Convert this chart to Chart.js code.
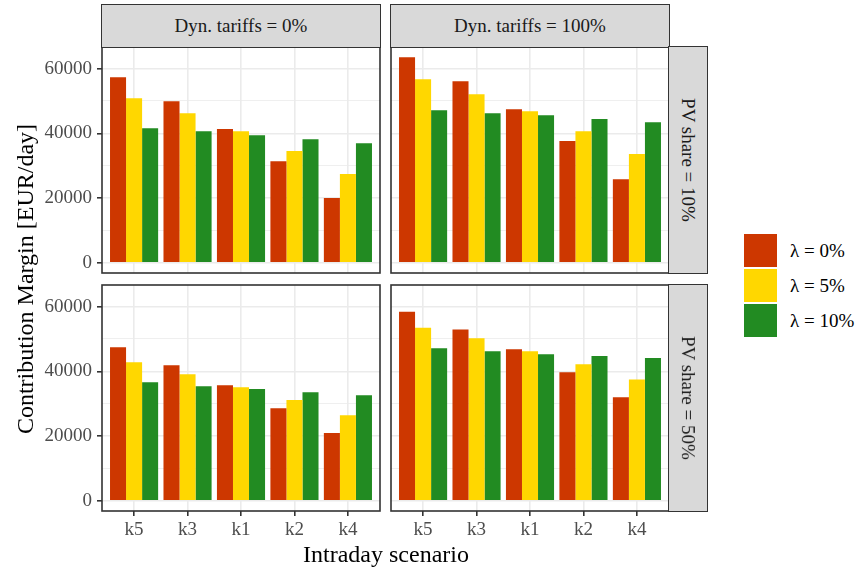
<!DOCTYPE html>
<html>
<head>
<meta charset="utf-8">
<script src="https://cdn.jsdelivr.net/npm/chart.js@4.4.1/dist/chart.umd.min.js"></script>
<style>
  html, body { margin: 0; padding: 0; background: #fff; }
  body { width: 862px; height: 571px; overflow: hidden; position: relative;
         font-family: "Liberation Serif", "Times New Roman", serif; }
  .box { position: absolute; }
  .strip { position: absolute; background: #d9d9d9; border: 1.6px solid #333; box-sizing: border-box;
           display: flex; align-items: center; justify-content: center; color: #1a1a1a; font-size: 19px;
           white-space: nowrap; }
  .strip span.rot { display: inline-block; transform: rotate(90deg); }
  .key { position: absolute; left: 744px; width: 33px; height: 33px; }
  .ltxt { position: absolute; left: 790px; font-size: 19px; line-height: 33px; color: #000; white-space: nowrap; }
  .xtitle { position: absolute; left: 0; width: 772px; top: 540.7px; text-align: center; font-size: 24px; line-height: 27px; color: #000; }
  .ytitle { position: absolute; left: -175px; width: 400px; top: 265px; height: 28px; text-align: center; font-size: 24px;
            line-height: 28px; color: #000; transform: rotate(-90deg); white-space: nowrap; }
</style>
</head>
<body>
<div class="box" id="bTL" style="left:0px;top:40px;width:384px;height:240px;"><canvas id="cTL"></canvas></div>
<div class="box" id="bTR" style="left:387px;top:40px;width:286px;height:240px;"><canvas id="cTR"></canvas></div>
<div class="box" id="bBL" style="left:0px;top:278px;width:384px;height:290px;"><canvas id="cBL"></canvas></div>
<div class="box" id="bBR" style="left:387px;top:278px;width:286px;height:290px;"><canvas id="cBR"></canvas></div>

<div class="strip" style="left:101.2px;top:4.2px;width:279.6px;height:43.6px;">Dyn. tariffs = 0%</div>
<div class="strip" style="left:390.2px;top:4.2px;width:279.6px;height:43.6px;">Dyn. tariffs = 100%</div>
<div class="strip" style="left:668.2px;top:46.2px;width:39.6px;height:227.6px;"><span class="rot">PV share = 10%</span></div>
<div class="strip" style="left:668.2px;top:284.2px;width:39.6px;height:227.6px;"><span class="rot">PV share = 50%</span></div>

<div class="key" style="top:234px;background:#CD3700;"></div>
<div class="key" style="top:269px;background:#FFD700;"></div>
<div class="key" style="top:304px;background:#228B22;"></div>
<div class="ltxt" style="top:234px;">λ = 0%</div>
<div class="ltxt" style="top:269px;">λ = 5%</div>
<div class="ltxt" style="top:304px;">λ = 10%</div>

<div class="xtitle">Intraday scenario</div>
<div class="ytitle">Contribution Margin [EUR/day]</div>

<script>
// ---------- DATA ----------
const categories = ['k5', 'k3', 'k1', 'k2', 'k4'];
const seriesNames = ['λ = 0%', 'λ = 5%', 'λ = 10%'];
const yTicks = [0, 10000, 20000, 30000, 40000, 50000, 60000];

// Dyn. tariffs = 0%, PV share = 10%
const lam0_dyn0_pv10  = [57300, 49900, 41300, 31400, 20000];
const lam5_dyn0_pv10  = [50800, 46200, 40600, 34500, 27400];
const lam10_dyn0_pv10 = [41600, 40600, 39400, 38200, 36900];
// Dyn. tariffs = 100%, PV share = 10%
const lam0_dyn100_pv10  = [63500, 56100, 47400, 37600, 25800];
const lam5_dyn100_pv10  = [56700, 52100, 46800, 40600, 33600];
const lam10_dyn100_pv10 = [47100, 46200, 45600, 44400, 43400];
// Dyn. tariffs = 0%, PV share = 50%
const lam0_dyn0_pv50  = [47400, 41900, 35700, 28600, 20900];
const lam5_dyn0_pv50  = [42800, 39100, 35100, 31100, 26400];
const lam10_dyn0_pv50 = [36600, 35400, 34500, 33500, 32600];
// Dyn. tariffs = 100%, PV share = 50%
const lam0_dyn100_pv50  = [58400, 52900, 46800, 39700, 32000];
const lam5_dyn100_pv50  = [53500, 50200, 46200, 42200, 37500];
const lam10_dyn100_pv50 = [47100, 46200, 45300, 44700, 44100];

// ---------- STYLE ----------
const colors = ['#CD3700', '#FFD700', '#228B22'];
const FONT = "'Liberation Serif', 'Times New Roman', serif";
const Y_MIN = -3175, Y_MAX = 66675;

const borderPlugin = {
  id: 'panelBorder',
  afterDraw(chart) {
    const a = chart.chartArea, ctx = chart.ctx;
    ctx.save();
    ctx.strokeStyle = '#333333';
    ctx.lineWidth = 1.6;
    ctx.strokeRect(a.left, a.top, a.right - a.left, a.bottom - a.top);
    ctx.restore();
  }
};

function zeroPad(scale) {
  scale.paddingTop = 0; scale.paddingBottom = 0; scale.paddingLeft = 0; scale.paddingRight = 0;
}

function makePanel(canvasId, s0, s1, s2, showX, showY) {
  const seriesData = [s0, s1, s2];
  const datasets = seriesData.map((arr, i) => ({
    label: seriesNames[i],
    data: arr.map((v, j) => ({ x: j + 1, y: v })),
    backgroundColor: colors[i],
    borderWidth: 0,
    barPercentage: 1.0,
    categoryPercentage: 0.9
  }));
  const padLeft = showY ? 0 : 4;
  const xHeight = showX ? 50 : 0;
  new Chart(document.getElementById(canvasId), {
    type: 'bar',
    data: { datasets },
    options: {
      responsive: true,
      maintainAspectRatio: false,
      animation: false,
      devicePixelRatio: 1,
      layout: { padding: { top: 7, bottom: 7, left: padLeft, right: 4 } },
      plugins: { legend: { display: false }, tooltip: { enabled: false } },
      scales: {
        x: {
          type: 'linear',
          min: 0.4, max: 5.6,
          offset: false,
          border: { display: false },
          grid: {
            offset: false,
            color: '#ebebeb',
            lineWidth: 1.6,
            drawTicks: showX,
            tickLength: 5,
            tickColor: '#333333',
            tickWidth: 1.6
          },
          ticks: {
            display: showX,
            padding: 3,
            color: '#4d4d4d',
            font: { family: FONT, size: 19 },
            maxRotation: 0,
            autoSkip: false,
            callback: (v) => categories[Math.round(v) - 1] ?? ''
          },
          afterBuildTicks: (scale) => { scale.ticks = categories.map((c, i) => ({ value: i + 1 })); },
          afterFit: (scale) => { scale.height = xHeight; zeroPad(scale); }
        },
        y: {
          type: 'linear',
          min: Y_MIN, max: Y_MAX,
          border: { display: false },
          grid: {
            color: '#ebebeb',
            lineWidth: (ctx) => (ctx.tick && ctx.tick.value % 20000 === 0) ? 1.6 : 0.8,
            drawTicks: showY,
            tickLength: 5,
            tickColor: (ctx) => (ctx.tick && ctx.tick.value % 20000 === 0) ? '#333333' : 'rgba(0,0,0,0)',
            tickWidth: 1.6
          },
          ticks: {
            display: showY,
            padding: 5,
            color: '#4d4d4d',
            font: { family: FONT, size: 19 },
            autoSkip: false,
            callback: (v) => (v % 20000 === 0) ? String(v) : ''
          },
          afterBuildTicks: (scale) => { scale.ticks = yTicks.map(v => ({ value: v })); },
          afterFit: (scale) => { scale.width = showY ? 102 : 0; zeroPad(scale); }
        }
      }
    },
    plugins: [borderPlugin]
  });
}

makePanel('cTL', lam0_dyn0_pv10, lam5_dyn0_pv10, lam10_dyn0_pv10, false, true);
makePanel('cTR', lam0_dyn100_pv10, lam5_dyn100_pv10, lam10_dyn100_pv10, false, false);
makePanel('cBL', lam0_dyn0_pv50, lam5_dyn0_pv50, lam10_dyn0_pv50, true, true);
makePanel('cBR', lam0_dyn100_pv50, lam5_dyn100_pv50, lam10_dyn100_pv50, true, false);
</script>
</body>
</html>
